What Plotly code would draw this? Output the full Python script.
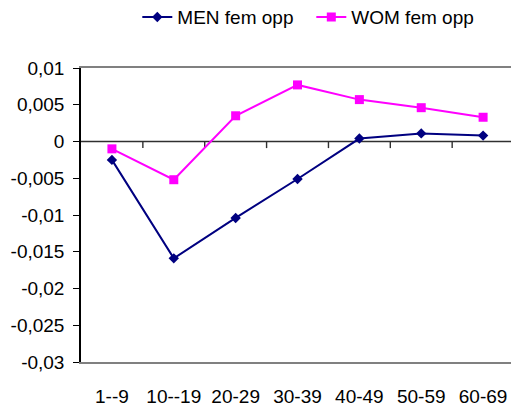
import plotly.graph_objects as go

# Age groups and effect sizes
age_groups = ["1--9", "10--19", "20-29", "30-39", "40-49", "50-59", "60-69"]
men_fem_opp = [-0.0025, -0.0159, -0.0104, -0.0051, 0.0004, 0.0011, 0.0008]
wom_fem_opp = [-0.0010, -0.0052, 0.0035, 0.0077, 0.0057, 0.0046, 0.0033]

y_ticks = [0.01, 0.005, 0, -0.005, -0.01, -0.015, -0.02, -0.025, -0.03]
y_tick_labels = ["0,01", "0,005", "0", "-0,005", "-0,01", "-0,015", "-0,02", "-0,025", "-0,03"]

xpos = list(range(len(age_groups)))
font = dict(family="Liberation Sans, Arial, sans-serif", size=19, color="black")

x_range = [-0.5, 6.451]
y_range = [-0.03, 0.01]
axis_color = "#303030"
tick_depth = 0.0009  # length of the category tick marks, in y units

# category axis crossing at y = 0, with tick marks between categories
axis_x = list(x_range)
axis_y = [0, 0]
for b in [i + 0.5 for i in xpos[:-1]]:
    axis_x += [None, b, b]
    axis_y += [None, 0, -tick_depth]

fig = go.Figure()
fig.add_trace(go.Scatter(
    x=axis_x, y=axis_y, mode="lines", showlegend=False, hoverinfo="skip",
    line=dict(color=axis_color, width=1.4), connectgaps=False,
))
fig.add_trace(go.Scatter(
    x=xpos, y=men_fem_opp, name="MEN fem opp", mode="lines+markers",
    line=dict(color="#000080", width=2),
    marker=dict(symbol="diamond", size=8, color="#000080"),
))
fig.add_trace(go.Scatter(
    x=xpos, y=wom_fem_opp, name="WOM fem opp", mode="lines+markers",
    line=dict(color="#FF00FF", width=2),
    marker=dict(symbol="square", size=9, color="#FF00FF"),
))

fig.update_layout(
    width=511, height=408,
    margin=dict(l=81, r=0, t=68, b=46, autoexpand=False),
    paper_bgcolor="white", plot_bgcolor="white",
    font=font,
    showlegend=True,
    legend=dict(orientation="h", yref="container", y=0.958, yanchor="middle",
                xref="container", x=0.2687, xanchor="left",
                entrywidth=129, entrywidthmode="pixels",
                font=font, bgcolor="rgba(0,0,0,0)", itemwidth=30, tracegroupgap=0),
    xaxis=dict(
        range=x_range, tickmode="array", tickvals=xpos, ticktext=age_groups,
        ticks="", showgrid=False, zeroline=False,
        showline=True, linecolor="#808080", linewidth=1.5, mirror=True,
        ticklabelstandoff=16,
    ),
    yaxis=dict(
        range=y_range, tickmode="array", tickvals=y_ticks, ticktext=y_tick_labels,
        ticks="outside", ticklen=6, tickwidth=1, tickcolor="black",
        showline=True, linecolor="black", linewidth=1.5,
        showgrid=False, zeroline=False, ticklabelstandoff=5,
    ),
)

fig.write_html("out.html")
